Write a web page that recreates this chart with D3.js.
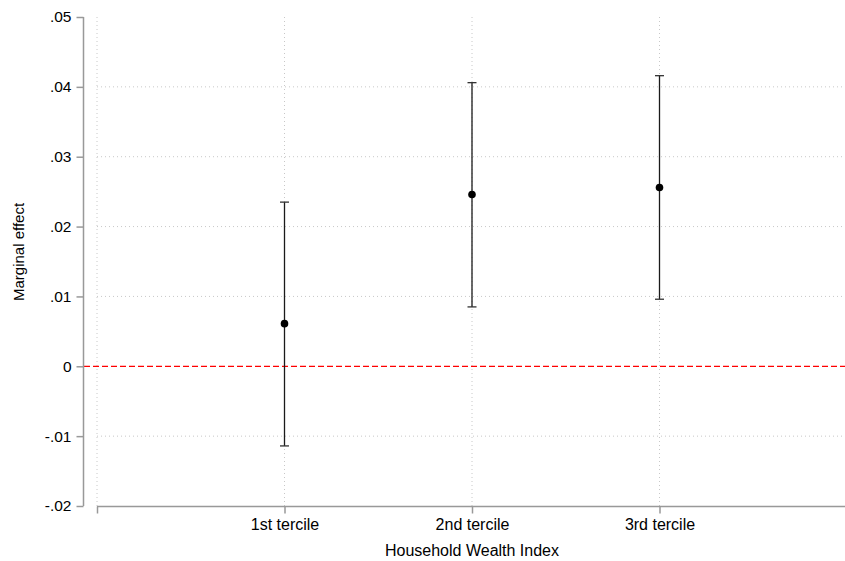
<!DOCTYPE html>
<html><head><meta charset="utf-8">
<script src="https://cdn.jsdelivr.net/npm/d3@7"></script>
<style>body{margin:0;background:#fff}svg{display:block;font-family:"Liberation Sans",Arial,sans-serif}</style>
</head><body><svg id="c" width="845" height="561"></svg>
<script>
const categories = ["1st tercile","2nd tercile","3rd tercile"];
const estimates = [0.0061, 0.0246, 0.0256];
const ciLower = [-0.0114, 0.0085, 0.0096];
const ciUpper = [0.0235, 0.0406, 0.0416];
const yTicks = [-0.02,-0.01,0,0.01,0.02,0.03,0.04,0.05];
const yTickLabels = ["-.02","-.01","0",".01",".02",".03",".04",".05"];
const yGrid = [-0.01,0.01,0.02,0.03,0.04];

const svg = d3.select("#c");
const W=845,H=561;
const x = d3.scaleLinear().domain([0,4]).range([97,847]);
const y = d3.scaleLinear().domain([-0.02,0.05]).range([506,17]);
const axisCol="#999";
const ff="Liberation Sans, Arial, sans-serif";

// gridlines
svg.append("g").selectAll("line").data(yGrid).join("line")
 .attr("x1",97).attr("x2",W).attr("y1",d=>y(d)).attr("y2",d=>y(d))
 .attr("stroke","#c8c8c8").attr("stroke-width",1).attr("stroke-dasharray","1,3");
svg.append("g").selectAll("line").data([0,1,2,3]).join("line")
 .attr("x1",d=>x(d)).attr("x2",d=>x(d)).attr("y1",17).attr("y2",506)
 .attr("stroke","#c8c8c8").attr("stroke-width",1).attr("stroke-dasharray","1,3");

// zero line
svg.append("line").attr("x1",84).attr("x2",W).attr("y1",y(0)).attr("y2",y(0))
 .attr("stroke","#ff0000").attr("stroke-width",1.2).attr("stroke-dasharray","6,3");

// y axis
const yAxis = d3.axisLeft(y).tickValues(yTicks).tickFormat((d,i)=>yTickLabels[i]).tickSize(7).tickPadding(5);
const gy = svg.append("g").attr("transform","translate(83.5,0)").call(yAxis);
gy.select(".domain").attr("stroke",axisCol).attr("stroke-width",1.5).attr("d","M0,"+y(0.05)+"V"+y(-0.02));
gy.selectAll(".tick line").attr("stroke",axisCol).attr("stroke-width",1.5);
gy.selectAll(".tick text").attr("font-size",15.5).attr("fill","#000").style("font-family",ff);

// x axis
const xAxis = d3.axisBottom(x).tickValues([0,1,2,3]).tickFormat(d=>d===0?"":categories[d-1]).tickSize(7).tickPadding(5);
const gx = svg.append("g").attr("transform","translate(0,506.5)").call(xAxis);
gx.select(".domain").attr("stroke",axisCol).attr("stroke-width",1.5).attr("d","M97,0H"+W);
gx.selectAll(".tick line").attr("stroke",axisCol).attr("stroke-width",1.5);
gx.selectAll(".tick text").attr("font-size",16).attr("fill","#000").style("font-family",ff);

// error bars
const g = svg.append("g");
categories.forEach((c,i)=>{
  const cx = x(i+1);
  g.append("line").attr("x1",cx).attr("x2",cx).attr("y1",y(ciLower[i])).attr("y2",y(ciUpper[i])).attr("stroke","#1a1a1a").attr("stroke-width",1.3);
  [ciLower[i],ciUpper[i]].forEach(v=>{
    g.append("line").attr("x1",cx-4.5).attr("x2",cx+4.5).attr("y1",y(v)).attr("y2",y(v)).attr("stroke","#333").attr("stroke-width",1.3);
  });
  g.append("circle").attr("cx",cx).attr("cy",y(estimates[i])).attr("r",3.8).attr("fill","#000");
});

// titles
svg.append("text").attr("x",472).attr("y",556).attr("text-anchor","middle").attr("font-size",16).text("Household Wealth Index");
svg.append("text").attr("transform","translate(24,252) rotate(-90)").attr("text-anchor","middle").attr("font-size",15).text("Marginal effect");
</script></body></html>
